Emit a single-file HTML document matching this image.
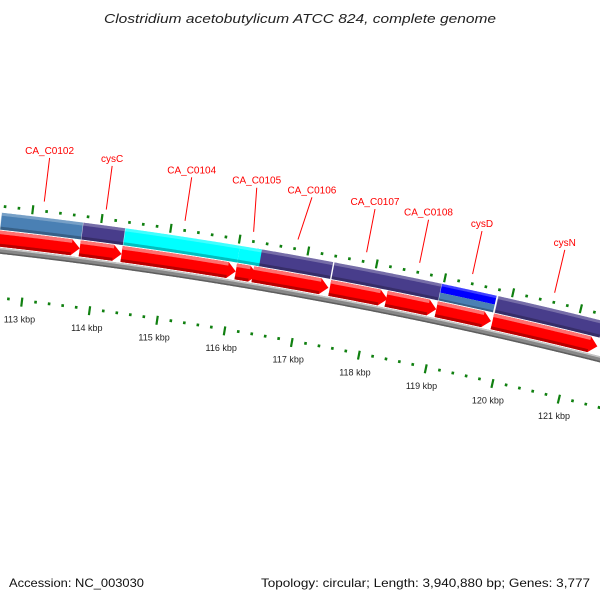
<!DOCTYPE html>
<html><head><meta charset="utf-8"><style>
html,body{margin:0;padding:0;background:#fff;}
svg{display:block;font-family:"Liberation Sans",sans-serif;}
</style></head><body>
<svg id="map" width="600" height="600" viewBox="0 0 600 600" xmlns="http://www.w3.org/2000/svg">
<rect width="600" height="600" fill="#fff"/>
<text x="300" y="23" text-anchor="middle" font-style="italic" font-size="13" textLength="392" lengthAdjust="spacingAndGlyphs" fill="#222">Clostridium acetobutylicum ATCC 824, complete genome</text>
<text x="9" y="587" font-size="12" textLength="135" lengthAdjust="spacingAndGlyphs" fill="#111">Accession: NC_003030</text>
<text x="261" y="587" font-size="12" textLength="329" lengthAdjust="spacingAndGlyphs" fill="#111">Topology: circular; Length: 3,940,880 bp; Genes: 3,777</text>
<g id="layer"></g>
</svg>
<script>
// gene data (kbp)
const geneStart = [112.56, 113.74, 114.35, 116.02, 116.27, 117.40, 118.23, 118.97, 119.80];
const geneEnd   = [113.74, 114.35, 116.02, 116.34, 117.38, 118.25, 118.97, 119.78, 121.36];
const geneCategory = ["P", "E", "C", "C", "E", "E", "E", "BP", "E"];
const geneLabels = ["CA_C0102", "cysC", "CA_C0104", "CA_C0105", "CA_C0106", "CA_C0107", "CA_C0108", "cysD", "cysN"];
const labelShift = [0, 0, 0, -0.06, 0.09, 0, 0, 0, 0];
const tickLabels = ["112 kbp","113 kbp","114 kbp","115 kbp","116 kbp","117 kbp","118 kbp","119 kbp","120 kbp","121 kbp","122 kbp","123 kbp"];
const tickValues = [112,113,114,115,116,117,118,119,120,121,122,123];

const catColor = {P:"#4a80b4", E:"#483d8b", C:"#00ffff", B:"#0000ff"};
const NS = "http://www.w3.org/2000/svg";
const layer = document.getElementById("layer");
const cx = -512, cy = 4792, RB = 4570;
function ang(bp){ return (-83.22 + (bp - 113) * 0.865) * Math.PI / 180; }
function P(r, bp){ const a = ang(bp); return [cx + r * Math.cos(a), cy + r * Math.sin(a)]; }
function arc(r, b0, b1){
  const n = Math.max(2, Math.ceil(Math.abs(b1 - b0) / 0.02) + 1), pts = [];
  for (let i = 0; i < n; i++){ pts.push(P(r, b0 + (b1 - b0) * i / (n - 1))); }
  return pts;
}
function ptsStr(p){ return p.map(q => q[0].toFixed(2) + "," + q[1].toFixed(2)).join(" "); }
function band(r0, r1, b0, b1){ return arc(r1, b0, b1).concat(arc(r0, b0, b1).reverse()); }
function poly(points, fill, name){
  const el = document.createElementNS(NS, "polygon");
  el.setAttribute("points", ptsStr(points));
  el.setAttribute("fill", fill);
  
  
  layer.appendChild(el);
  return el;
}
function line(a, b, stroke, w, name){
  const el = document.createElementNS(NS, "line");
  el.setAttribute("x1", a[0]); el.setAttribute("y1", a[1]);
  el.setAttribute("x2", b[0]); el.setAttribute("y2", b[1]);
  el.setAttribute("stroke", stroke); el.setAttribute("stroke-width", w);
  
  
  layer.appendChild(el);
  return el;
}

// backbone
poly(band(RB - 3, RB + 3, 111.5, 123.5), "#888", "backbone");
poly(band(RB + 1.5, RB + 3, 111.5, 123.5), "#c4c4c4", "backbone-highlight");
poly(band(RB - 3, RB - 1.5, 111.5, 123.5), "#5e5e5e", "backbone-shadow");

// COG colour bands (reverse order)
for (let i = geneStart.length - 1; i >= 0; i--){
  const s = geneStart[i], e = geneEnd[i], c = geneCategory[i];
  if (c === "BP"){
    poly(band(RB + 29, RB + 38, s, e), catColor.B, "cog-band-" + geneLabels[i]);
    poly(band(RB + 21, RB + 29, s, e), catColor.P, "cog-band-" + geneLabels[i] + "-2");
    poly(band(RB + 35.5, RB + 38, s, e), "rgba(255,255,255,0.25)", "cog-band-highlight");
    poly(band(RB + 21, RB + 23, s, e), "rgba(0,0,0,0.25)", "cog-band-shadow");
  } else {
    poly(band(RB + 21, RB + 38, s, e), catColor[c], "cog-band-" + geneLabels[i]);
    poly(band(RB + 35, RB + 38, s, e), "rgba(255,255,255,0.25)", "cog-band-highlight");
    poly(band(RB + 21, RB + 24, s, e), "rgba(0,0,0,0.25)", "cog-band-shadow");
  }
  if (i === 0 || geneCategory[i - 1] !== c){
    line(P(RB + 21, s), P(RB + 38, s), "rgba(255,255,255,0.7)", 1, "cog-band-separator");
  }
}

// CDS arrows (forward strand)
const H = 0.12;
for (let i = 0; i < geneStart.length; i++){
  const s = geneStart[i], e = geneEnd[i];
  const pts = arc(RB + 20, s, e - H).concat([P(RB + 12, e)]).concat(arc(RB + 4, s, e - H).reverse());
  poly(pts, "#ff0000", "cds-arrow-" + geneLabels[i]);
  poly(band(RB + 16.5, RB + 20, s, e - H), "#ff7070", "cds-arrow-highlight");
  poly(band(RB + 4, RB + 7, s, e - H), "#b80000", "cds-arrow-shadow");
}

// tick rings
for (let k = 0; k <= 55; k++){
  const bp = 112 + k * 0.2;
  const major = (k % 5 === 0);
  if (major){
    line(P(RB + 40, bp), P(RB + 49, bp), "#108010", 2.2, "outer-major-tick");
    line(P(RB - 53, bp), P(RB - 44, bp), "#108010", 2.2, "inner-major-tick");
  } else {
    line(P(RB + 43, bp), P(RB + 45.8, bp), "#108010", 2.6, "outer-minor-tick");
    line(P(RB - 48.3, bp), P(RB - 45.5, bp), "#108010", 2.6, "inner-minor-tick");
  }
}
for (let i = 0; i < tickValues.length; i++){
  const p = P(RB - 69, tickValues[i]);
  const t = document.createElementNS(NS, "text");
  t.setAttribute("x", p[0].toFixed(1)); t.setAttribute("y", p[1].toFixed(1));
  t.setAttribute("text-anchor", "middle"); t.setAttribute("font-size", "9"); t.setAttribute("fill", "#222");
  t.textContent = tickLabels[i];
  
  
  layer.appendChild(t);
}

// gene labels
for (let i = 0; i < geneStart.length; i++){
  const mid = (geneStart[i] + geneEnd[i]) / 2;
  const b = P(RB + 54, mid), top = P(RB + 98, mid + labelShift[i]);
  line(b, top, "#ff0000", 1, "label-line");
  const t = document.createElementNS(NS, "text");
  t.setAttribute("x", top[0].toFixed(1)); t.setAttribute("y", (top[1] - 4).toFixed(1));
  t.setAttribute("text-anchor", "middle"); t.setAttribute("font-size", "10"); t.setAttribute("fill", "#ff0000");
  t.textContent = geneLabels[i];
  
  
  layer.appendChild(t);
}
</script>
</body></html>
